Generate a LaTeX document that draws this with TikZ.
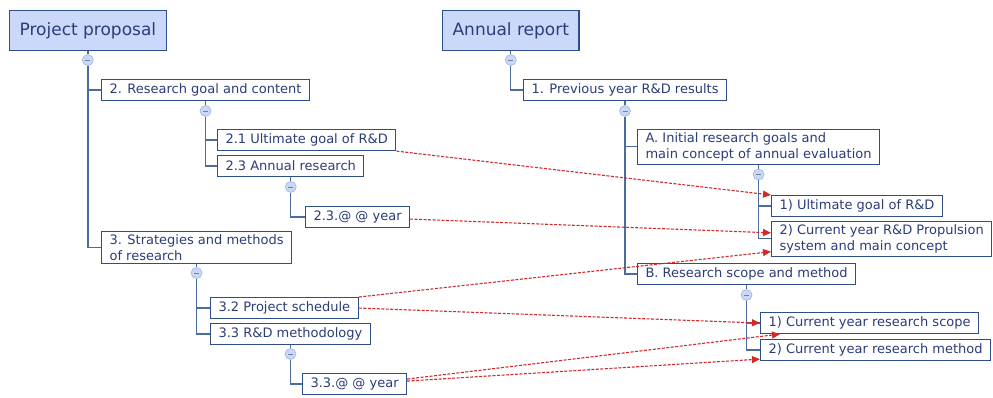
\documentclass[tikz,border=0pt]{standalone}
\usepackage{fontspec}
\setmainfont{DejaVu Sans}
\usepackage{xcolor}
\usetikzlibrary{positioning,arrows.meta}

\definecolor{boxline}{HTML}{2E4E88}
\definecolor{textcol}{HTML}{2B3D78}
\definecolor{rootfill}{HTML}{CCD8FA}
\definecolor{branchcol}{HTML}{4C6B9E}
\definecolor{foldfill}{HTML}{CAD8F6}
\definecolor{foldedge}{HTML}{A3BBE6}
\definecolor{linkred}{HTML}{D02A2A}

\tikzset{
  root/.style={draw=boxline, fill=rootfill, line width=1.2pt, text=textcol,
    font=\fontsize{17}{20}\selectfont, anchor=north west, minimum height=40pt, inner xsep=10pt},
  topic/.style={draw=boxline, fill=white, line width=1.1pt, text=textcol,
    font=\fontsize{13}{16}\selectfont, anchor=north west, align=left,
    minimum height=21pt, inner xsep=8pt, inner ysep=3pt},
  fold/.style={circle, draw=foldedge, fill=foldfill, line width=0.7pt,
    minimum size=11pt, inner sep=0pt,
    path picture={\draw[foldedge!70!black, line width=0.8pt]
      ([xshift=-2.5pt]path picture bounding box.center) -- ([xshift=2.5pt]path picture bounding box.center);}},
  branch/.style={draw=branchcol, line width=1.3pt},
  link/.style={draw=linkred, line width=1.1pt, dash pattern=on 3pt off 1.5pt,
    -{Triangle[length=8pt,width=7pt]}},
}

\begin{document}
\begin{tikzpicture}[x=1pt, y=-1pt]
  \useasboundingbox (0,0) rectangle (993,397);

  % project proposal
  \node[root] (pp) at (9,10) {Project proposal};
  \node[fold, below=3pt of pp] (ppf) {};
  \node[topic] (goal) at (101,79) {2. Research goal and content};
  \node[fold, below=4pt of goal] (goalf) {};
  \node[topic] (ult) at (217,129) {2.1 Ultimate goal of R\&D};
  \node[topic] (ann) at (217,155) {2.3 Annual research};
  \node[fold, below=4pt of ann] (annf) {};
  \node[topic] (annyr) at (305,206) {2.3.@ @ year};
  \node[topic] (strat) at (101,231) {3. Strategies and methods\\of research};
  \node[fold, below=3pt of strat] (stratf) {};
  \node[topic] (sched) at (210,297) {3.2 Project schedule};
  \node[topic] (meth) at (210,323) {3.3 R\&D methodology};
  \node[fold, below=3pt of meth] (methf) {};
  \node[topic] (methyr) at (302,373) {3.3.@ @ year};

  % annual report
  \node[root] (ar) at (442,10) {Annual report};
  \node[fold, below=3pt of ar] (arf) {};
  \node[topic] (prev) at (523,79) {1. Previous year R\&D results};
  \node[fold, below=4pt of prev] (prevf) {};
  \node[topic] (initA) at (637,129) {A. Initial research goals and\\main concept of annual evaluation};
  \node[fold, below=4pt of initA] (initAf) {};
  \node[topic] (ultB) at (771,195) {1) Ultimate goal of R\&D};
  \node[topic] (cur) at (771,221) {2) Current year R\&D Propulsion\\system and main concept};
  \node[topic] (scopeB) at (637,263) {B. Research scope and method};
  \node[fold, below=4pt of scopeB] (scopeBf) {};
  \node[topic] (curscope) at (760,312) {1) Current year research scope};
  \node[topic] (curmeth) at (760,339) {2) Current year research method};

  \draw[branch] (pp) -- (ppf);
  \draw[branch] (ppf) |- (goal);
  \draw[branch] (ppf) |- (strat);
  \draw[branch] (goal) -- (goalf);
  \draw[branch] (goalf) |- (ult);
  \draw[branch] (goalf) |- (ann);
  \draw[branch] (ann) -- (annf);
  \draw[branch] (annf) |- (annyr);
  \draw[branch] (strat) -- (stratf);
  \draw[branch] (stratf) |- (sched);
  \draw[branch] (stratf) |- (meth);
  \draw[branch] (meth) -- (methf);
  \draw[branch] (methf) |- (methyr);

  \draw[branch] (ar) -- (arf);
  \draw[branch] (arf) |- (prev);
  \draw[branch] (prev) -- (prevf);
  \draw[branch] (prevf) |- (initA);
  \draw[branch] (prevf) |- (scopeB);
  \draw[branch] (initA) -- (initAf);
  \draw[branch] (initAf) |- (ultB);
  \draw[branch] (initAf) |- (cur);
  \draw[branch] (scopeB) -- (scopeBf);
  \draw[branch] (scopeBf) |- (curscope);
  \draw[branch] (scopeBf) |- (curmeth);

  % links between the two documents
  \draw[link] (ult.south east) -- (ultB.north west);
  \draw[link] ([yshift=-2pt]annyr.east) -- ([yshift=6pt]cur.west);
  \draw[link] (sched.north east) -- ([yshift=5pt]cur.south west);
  \draw[link] (sched.east) -- (curscope.west);
  \draw[link] ([yshift=5pt]methyr.east) -- ([xshift=20pt]curscope.south west);
  \draw[link] ([yshift=3pt]methyr.east) -- ([yshift=2pt]curmeth.south west);
\end{tikzpicture}
\end{document}
